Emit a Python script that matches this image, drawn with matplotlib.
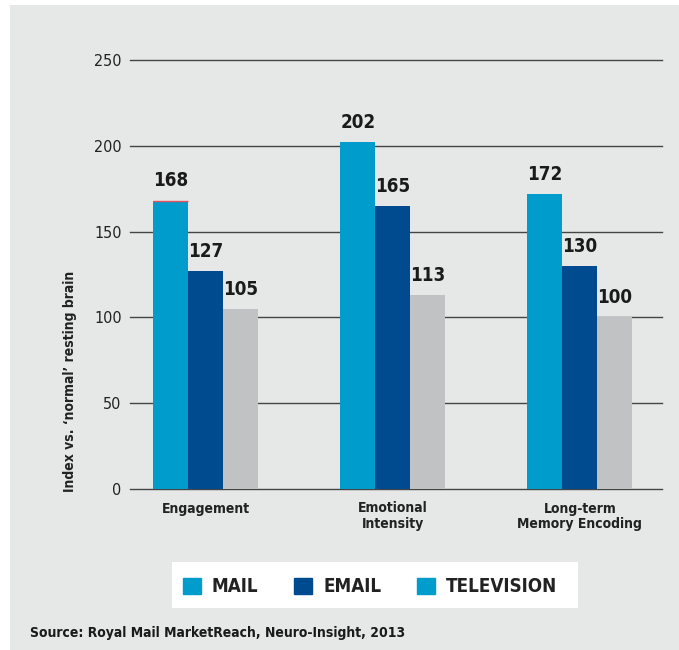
import numpy as np
import matplotlib
matplotlib.use("Agg")
import matplotlib.pyplot as plt
from matplotlib.patches import Patch, Rectangle

plt.rcParams['font.family'] = ['DejaVu Sans']
plt.rcParams['font.stretch'] = 'condensed'

categories = ["Engagement", "Emotional\nIntensity", "Long-term\nMemory Encoding"]
mail = [168, 202, 172]
email = [127, 165, 130]
television = [105, 113, 100]
y_ticks = [0, 50, 100, 150, 200, 250]
legend_labels = ["MAIL", "EMAIL", "TELEVISION"]
source_text = "Source: Royal Mail MarketReach, Neuro-Insight, 2013"
y_label = "Index vs. \u2018normal\u2019 resting brain"

c_mail = "#009dcc"
c_email = "#004a8f"
c_tv = "#c1c2c4"
bg = "#e6e7e7"

fig = plt.figure(figsize=(6.79, 6.50), dpi=100, facecolor="white")
fig.patches.append(Rectangle((10 / 679, 0), 1, 1 - 5 / 650, transform=fig.transFigure,
                             facecolor=bg, edgecolor="none", zorder=-2))
# white box behind the legend
fig.patches.append(Rectangle((172 / 679, 1 - 608 / 650), 406 / 679, 46 / 650,
                             transform=fig.transFigure, facecolor="white",
                             edgecolor="none", zorder=-1))

ax = fig.add_axes([130 / 679, 1 - 489 / 650, 532 / 679, 429 / 650])
ax.set_facecolor("none")

x = np.arange(len(categories))
w = 0.187
groups = [(mail, c_mail, -w), (email, c_email, 0), (television, c_tv, w)]
for vals, col, off in groups:
    bars = ax.bar(x + off, vals, width=w, color=col, zorder=3)
    for b, v in zip(bars, vals):
        ax.text(b.get_x() + b.get_width() / 2, v + 6, str(v), ha="center", va="bottom",
                fontsize=13.5, fontweight="bold", color="#1a1a1a")

# thin red edge on top of the first bar
ax.plot([-1.5 * w, -0.5 * w], [mail[0], mail[0]], color="#e8505b", lw=1.0, zorder=4,
        solid_capstyle="butt")

ax.set_xlim(-0.406, 2.44)
ax.set_ylim(0, 250)
ax.set_yticks(y_ticks)
ax.yaxis.grid(True, color="#444444", lw=1.0)
for gl in ax.get_ygridlines():
    gl.set_clip_on(False)
ax.set_axisbelow(True)
ax.tick_params(axis="y", length=0, pad=6, labelsize=11.5, labelcolor="#222222")
ax.set_xticks(x)
ax.set_xticklabels(categories, fontsize=10, fontweight="bold", color="#222222",
                   linespacing=1.1, va="top")
ax.tick_params(axis="x", length=0, pad=9)
for s in ax.spines.values():
    s.set_visible(False)

fig.text(70 / 679, 1 - 381 / 650, y_label, rotation=90, ha="center", va="center",
         fontsize=10, fontweight="bold", color="#222222")

handles = [Patch(color=c_mail), Patch(color=c_email), Patch(color=c_mail)]
fig.legend(handles, legend_labels, ncol=3, loc="center", bbox_to_anchor=(370 / 679, 1 - 587 / 650),
           frameon=False, prop={"size": 13.5, "weight": "bold"}, handlelength=0.95,
           handleheight=0.95, handletextpad=0.6, columnspacing=1.9, labelcolor="#222222")

fig.text(30 / 679, 1 - 633 / 650, source_text, ha="left", va="center",
         fontsize=10, fontweight="bold", color="#1a1a1a")

fig.savefig("out.png", dpi=100, facecolor="white")
